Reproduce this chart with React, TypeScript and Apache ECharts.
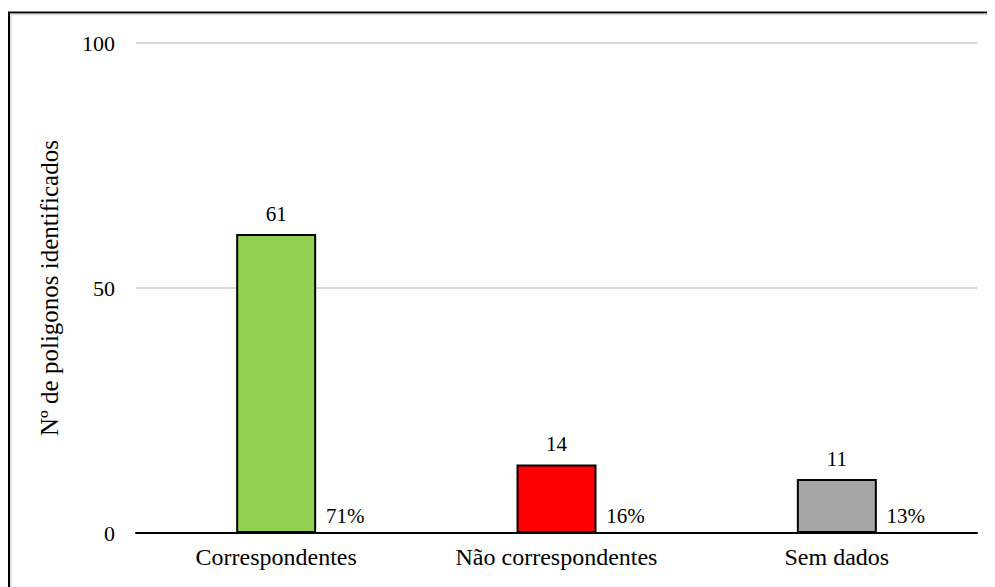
import React, { useEffect, useRef } from "react";
import * as echarts from "echarts";

const categories = ["Correspondentes", "Não correspondentes", "Sem dados"];
const counts = [61, 14, 11];
const barColors = ["#92d050", "#ff0000", "#a6a6a6"];
const yTicks = { min: 0, max: 100, interval: 50 };
const yAxisTitle = "Nº de poligonos identificados";

const FONT = "Liberation Serif";

export default function App() {
  const ref = useRef<HTMLDivElement>(null);

  useEffect(() => {
    if (!ref.current) return;
    const chart = echarts.init(ref.current, undefined, { renderer: "svg" });
    const total = counts.reduce((a, b) => a + b, 0);
    const shares = counts.map((v) => Math.round((v / total) * 100));

    chart.setOption({
      animation: false,
      backgroundColor: "#ffffff",
      textStyle: { fontFamily: FONT, color: "#000" },
      graphic: [
        {
          type: "rect",
          silent: true,
          shape: { x: 1, y: 4.5, width: 1200, height: 800 },
          style: { fill: "none", stroke: "#000", lineWidth: 2 },
        },
        {
          type: "rect",
          silent: true,
          shape: { x: 3, y: 6.5, width: 1200, height: 800 },
          style: { fill: "none", stroke: "#d9d9d9", lineWidth: 1.5 },
        },
      ],
      grid: { left: 128, right: 26, top: 35, bottom: 62, containLabel: false },
      xAxis: {
        type: "category",
        data: categories,
        axisTick: { show: false },
        axisLine: { lineStyle: { color: "#000", width: 2 } },
        axisLabel: { color: "#000", fontSize: 24, fontFamily: FONT, margin: 12 },
      },
      yAxis: {
        type: "value",
        min: yTicks.min,
        max: yTicks.max,
        interval: yTicks.interval,
        name: yAxisTitle,
        nameLocation: "middle",
        nameGap: 74,
        nameTextStyle: { color: "#000", fontSize: 25, fontFamily: FONT },
        axisLine: { show: false },
        axisTick: { show: false },
        axisLabel: { color: "#000", fontSize: 22, fontFamily: FONT, margin: 21 },
        splitLine: { lineStyle: { color: "#d9d9d9", width: 2 } },
      },
      series: [
        {
          type: "bar",
          barWidth: 80,
          data: counts.map((v, i) => ({
            value: v,
            itemStyle: { color: barColors[i], borderColor: "#000", borderWidth: 2 },
          })),
          label: {
            show: true,
            position: "top",
            distance: 10,
            color: "#000",
            fontSize: 21,
            fontFamily: FONT,
          },
        },
        {
          type: "scatter",
          silent: true,
          symbolSize: 0,
          itemStyle: { opacity: 1 },
          data: shares.map((s, i) => ({ value: [categories[i], 0], share: s })),
          label: {
            show: true,
            position: "inside",
            offset: [69, -17],
            color: "#000",
            opacity: 1,
            fontSize: 21,
            fontFamily: FONT,
            formatter: (p: any) => `${p.data.share}%`,
          },
        },
      ],
    });

    return () => chart.dispose();
  }, []);

  return <div ref={ref} style={{ width: 995, height: 587 }} />;
}
